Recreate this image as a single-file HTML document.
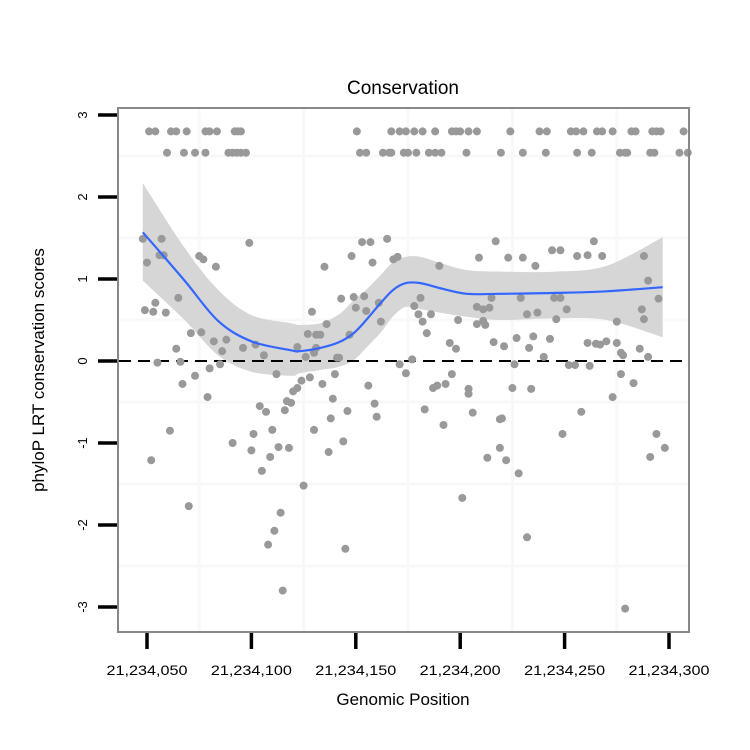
<!DOCTYPE html>
<html><head><meta charset="utf-8"><style>
html,body{margin:0;padding:0;background:#fff;}
svg{display:block;font-family:"Liberation Sans",sans-serif;}
</style></head><body>
<svg id="chart" width="750" height="750" viewBox="0 0 750 750">
<rect x="0" y="0" width="750" height="750" fill="#fff"/>
<g id="grid"></g>
<g id="band"></g>
<g id="zero"></g>
<g id="pts"></g>
<g id="fit"></g>
<rect x="118" y="108" width="571" height="524" fill="none" stroke="#888" stroke-width="2"/>
<g id="axes"></g>
<text x="403" y="94" font-size="19" text-anchor="middle" fill="#000">Conservation</text>
<text x="403" y="705" font-size="17" text-anchor="middle" fill="#000">Genomic Position</text>
<text transform="translate(44,370) rotate(-90)" font-size="17" text-anchor="middle" fill="#000">phyloP LRT conservation scores</text>
</svg>
<script>
const BASE = 21234000;
const xTicks = [50,100,150,200,250,300];
const xTickLabels = ["21,234,050","21,234,100","21,234,150","21,234,200","21,234,250","21,234,300"];
const yTicks = [-3,-2,-1,0,1,2,3];
const yTickLabels = ["-3","-2","-1","0","1","2","3"];
const xGrid = [75,125,175,225,275];
const yGrid = [-2.5,-1.5,-0.5,0.5,1.5,2.5];
const posTop1 = [51,54,61.5,64,69,78,80,83.5,92,93.5,95,150.5,167,171,174,178,182,188,196,198,200,204,208,224,238,241.5,253,255.5,259,265.5,268,273,282,284,292,294,296,307];
const posTop2 = [59.6,67.7,73,78,89,91,93,95,97.4,152,155,163,166,167,173,175,179,185,188,191,203,219.5,230,241,256,263,276.5,279,280,291,293,305,309];
const posOther = [48,57,50,56,58,75,77,83,99,65,54,49,53,59,71,76,82,88,86,96,102,106,64,55,66,80,85,73,112,127,129,122,126,130,131,
52,61,70,67,79,91,101,100,105,110,113,118,109,104,107,116,117,119,120,122,124,128,125,114,111,108,115,130,
153,157,165,148,135,158,168,170,190,209,217,143,149,154,161,150,155,136,162,181,178,180,186,182,184,215,208,211,214,199,208,211,212,133,147,195,198,216,131,141,142,177,171,174,140,134,156,196,193,189,187,204,204,139,159,146,183,206,138,160,
144,137,145,192,213,201,219,219,
244,248,264,223,230,256,261,268,288,236,290,229,245,248,295,251,287,232,237,246,275,288,221,227,235,243,233,261,265,267,270,275,277,278,286,290,240,226,252,255,262,277,283,225,234,273,258,220,
249,222,228,232,294,298,291,279];
const valOther = [1.49,1.49,1.20,1.29,1.29,1.28,1.24,1.15,1.44,0.77,0.71,0.62,0.60,0.59,0.34,0.35,0.24,0.26,0.12,0.16,0.20,0.07,0.15,-0.02,-0.01,-0.09,-0.04,-0.18,-0.16,0.33,0.60,0.17,0.05,0.10,0.32,
-1.21,-0.85,-1.77,-0.28,-0.44,-1.00,-0.89,-1.09,-1.34,-0.84,-1.05,-1.06,-1.17,-0.55,-0.62,-0.60,-0.49,-0.51,-0.37,-0.33,-0.24,-0.20,-1.52,-1.85,-2.07,-2.24,-2.80,-0.84,
1.45,1.45,1.49,1.28,1.15,1.20,1.24,1.27,1.16,1.26,1.46,0.76,0.78,0.79,0.71,0.65,0.61,0.45,0.48,0.77,0.67,0.57,0.57,0.48,0.34,0.77,0.66,0.63,0.65,0.50,0.45,0.49,0.44,0.32,0.32,0.22,0.15,0.23,0.16,0.04,0.04,0.02,-0.04,-0.15,-0.16,-0.28,-0.30,-0.16,-0.28,-0.30,-0.33,-0.34,-0.40,-0.46,-0.52,-0.61,-0.59,-0.63,-0.70,-0.68,
-0.98,-1.11,-2.29,-0.78,-1.18,-1.67,-0.71,-1.06,
1.35,1.35,1.46,1.26,1.26,1.28,1.29,1.28,1.28,1.16,0.98,0.77,0.77,0.77,0.76,0.63,0.63,0.57,0.59,0.51,0.48,0.51,0.18,0.28,0.30,0.27,0.16,0.22,0.21,0.20,0.24,0.22,0.10,0.07,0.15,0.05,0.05,-0.04,-0.05,-0.05,-0.06,-0.16,-0.27,-0.33,-0.34,-0.44,-0.62,-0.70,
-0.89,-1.21,-1.37,-2.15,-0.89,-1.06,-1.17,-3.02];
const fitPos = [48,68,84,100,119,123,133,142,149,155,162,168,174,181,190,203,219,246,270,297];
const fitVal = [1.57,0.98,0.49,0.24,0.13,0.12,0.16,0.23,0.34,0.50,0.71,0.87,0.95,0.95,0.89,0.82,0.82,0.83,0.85,0.90];
const fitUpper = [2.17,1.38,0.87,0.56,0.46,0.44,0.46,0.57,0.74,0.87,1.05,1.21,1.27,1.27,1.20,1.11,1.09,1.09,1.16,1.51];
const fitLower = [0.98,0.50,0.07,-0.13,-0.18,-0.15,-0.11,-0.07,0.01,0.16,0.35,0.55,0.66,0.63,0.59,0.54,0.50,0.52,0.50,0.29];

const NS = "http://www.w3.org/2000/svg";
function xs(p){ return 147 + (p - 50) * 2.088; }
function ys(v){ return 361 - v * 82; }
function mk(tag, attrs, parent){
  const e = document.createElementNS(NS, tag);
  for (const k in attrs) e.setAttribute(k, attrs[k]);
  parent.appendChild(e);
  return e;
}
function smooth(P, start){
  let s = (start ? 'M' : 'L') + P[0][0].toFixed(1) + ',' + P[0][1].toFixed(1);
  for (let i = 0; i < P.length - 1; i++){
    const p0 = P[Math.max(i-1,0)], p1 = P[i], p2 = P[i+1], p3 = P[Math.min(i+2,P.length-1)];
    const c1x = p1[0] + (p2[0]-p0[0])/6, c1y = p1[1] + (p2[1]-p0[1])/6;
    const c2x = p2[0] - (p3[0]-p1[0])/6, c2y = p2[1] - (p3[1]-p1[1])/6;
    s += 'C' + c1x.toFixed(1) + ',' + c1y.toFixed(1) + ' ' + c2x.toFixed(1) + ',' + c2y.toFixed(1) + ' ' + p2[0].toFixed(1) + ',' + p2[1].toFixed(1);
  }
  return s;
}
const grid = document.getElementById('grid');
xGrid.forEach(g => {
  const l = mk('line', {x1:xs(g), x2:xs(g), y1:109, y2:631, stroke:'#f8f8f8', 'stroke-width':3}, grid);
  
  
});
yGrid.forEach(g => {
  const l = mk('line', {x1:119, x2:688, y1:ys(g), y2:ys(g), stroke:'#f8f8f8', 'stroke-width':3}, grid);
  
  
});
const up = fitPos.map((p,i) => [xs(p), ys(fitUpper[i])]);
const lo = fitPos.map((p,i) => [xs(p), ys(fitLower[i])]).reverse();
const d = smooth(up, true) + smooth(lo, false) + 'Z';
const band = mk('path', {d:d, fill:'#d6d6d6'}, document.getElementById('band'));


const z = mk('line', {x1:119, x2:688, y1:ys(0), y2:ys(0), stroke:'#000', 'stroke-width':2, 'stroke-dasharray':'12,7'}, document.getElementById('zero'));


const pts = document.getElementById('pts');
function dot(p, v){
  const c = mk('circle', {cx:xs(p), cy:ys(v), r:4, fill:'#999'}, pts);
  
  
}
posTop1.forEach(p => dot(p, 2.80));
posTop2.forEach(p => dot(p, 2.54));
posOther.forEach((p,i) => dot(p, valOther[i]));
const f = smooth(fitPos.map((p,i) => [xs(p), ys(fitVal[i])]), true);
const fl = mk('path', {d:f, fill:'none', stroke:'#3366ff', 'stroke-width':2.2, 'stroke-linejoin':'round'}, document.getElementById('fit'));


const axes = document.getElementById('axes');
xTicks.forEach((t,i) => {
  const l = mk('line', {x1:xs(t), x2:xs(t), y1:633, y2:649, stroke:'#000', 'stroke-width':3.5}, axes);
  
  
  const tx = mk('text', {x:xs(t), y:675, 'font-size':14, 'text-anchor':'middle', fill:'#000', textLength:81, lengthAdjust:'spacingAndGlyphs'}, axes);
  tx.textContent = xTickLabels[i];
  
  
});
yTicks.forEach((t,i) => {
  const l = mk('line', {x1:98, x2:117, y1:ys(t), y2:ys(t), stroke:'#000', 'stroke-width':3.5}, axes);
  
  
  const tx = mk('text', {transform:'translate(87,' + ys(t) + ') rotate(-90)', 'font-size':13, 'text-anchor':'middle', fill:'#000'}, axes);
  tx.textContent = yTickLabels[i];
  
  
});
</script>
</body></html>
